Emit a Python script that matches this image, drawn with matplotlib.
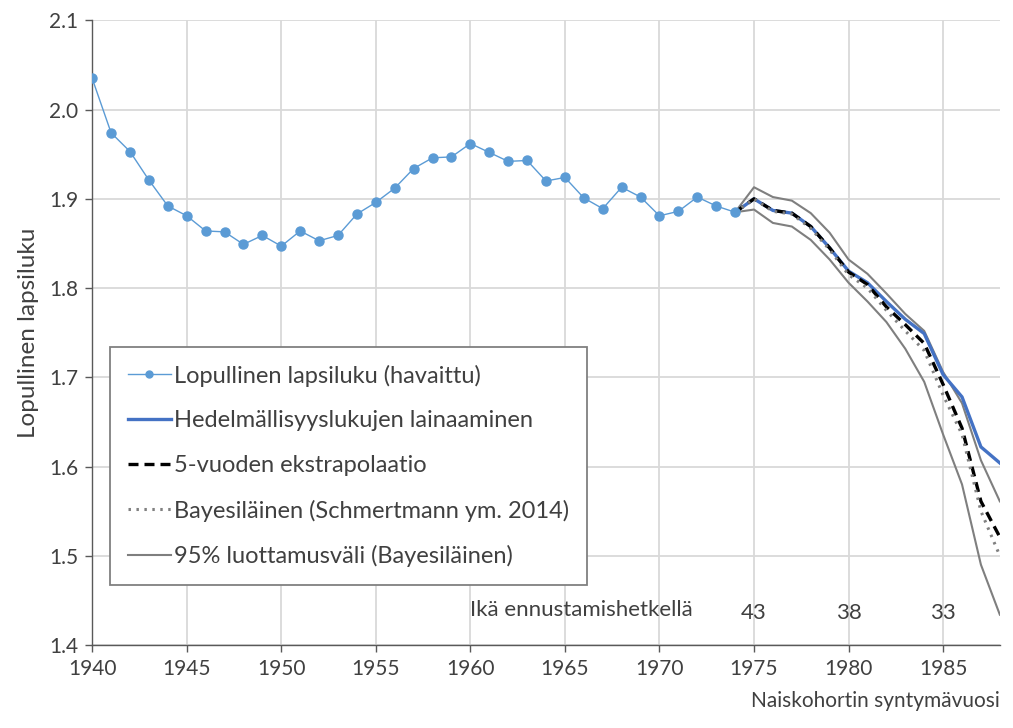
import matplotlib.pyplot as plt

plt.rcParams['font.family'] = ['Lato', 'DejaVu Sans']

# havaitut arvot
obs_years = list(range(1940, 1975))
obs_values = [2.035, 1.974, 1.953, 1.921, 1.892, 1.881, 1.864, 1.863, 1.849, 1.859,
              1.847, 1.864, 1.853, 1.859, 1.883, 1.896, 1.912, 1.934, 1.946, 1.947,
              1.962, 1.952, 1.942, 1.943, 1.920, 1.924, 1.901, 1.889, 1.913, 1.902,
              1.881, 1.886, 1.902, 1.892, 1.885]

# ennusteet
fc_years = list(range(1974, 1989))
borrowing = [1.885, 1.900, 1.887, 1.884, 1.869, 1.845, 1.819, 1.806, 1.785, 1.765,
             1.749, 1.703, 1.678, 1.622, 1.604]
extrap = [1.885, 1.900, 1.887, 1.884, 1.869, 1.845, 1.818, 1.804, 1.779, 1.759,
          1.738, 1.692, 1.643, 1.561, 1.521]
bayes = [1.885, 1.900, 1.886, 1.883, 1.867, 1.843, 1.815, 1.800, 1.775, 1.752,
         1.730, 1.680, 1.636, 1.550, 1.500]
ci_upper = [1.885, 1.913, 1.902, 1.898, 1.884, 1.862, 1.832, 1.816, 1.794, 1.771,
            1.752, 1.706, 1.671, 1.607, 1.561]
ci_lower = [1.885, 1.888, 1.873, 1.869, 1.854, 1.832, 1.806, 1.785, 1.762, 1.732,
            1.695, 1.636, 1.580, 1.490, 1.434]

age_years = [1975, 1980, 1985]
age_labels = ['43', '38', '33']

txt = '#404040'

fig = plt.figure(figsize=(10.13, 7.28), dpi=100)
ax = fig.add_axes([0.091, 0.114, 0.896, 0.858])

ax.plot(obs_years, obs_values, color='#5B9BD5', lw=1, marker='o', ms=6.5,
        label='Lopullinen lapsiluku (havaittu)', zorder=5)
ax.plot(fc_years, borrowing, color='#4472C4', lw=2.4,
        label='Hedelmällisyyslukujen lainaaminen', zorder=3)
ax.plot(fc_years, extrap, color='black', lw=2.4, ls=(0, (3, 1.8)),
        label='5-vuoden ekstrapolaatio', zorder=4)
ax.plot(fc_years, bayes, color='#808080', lw=2.2, ls=(0, (0.8, 1.8)),
        label='Bayesiläinen (Schmertmann ym. 2014)', zorder=4)
ax.plot(fc_years, ci_upper, color='#7F7F7F', lw=1.5,
        label='95% luottamusväli (Bayesiläinen)', zorder=2)
ax.plot(fc_years, ci_lower, color='#7F7F7F', lw=1.5, zorder=2)

ax.set_xlim(1940, 1988)
ax.set_ylim(1.4, 2.1)
ax.set_xticks(range(1940, 1990, 5))
ax.set_yticks([1.4, 1.5, 1.6, 1.7, 1.8, 1.9, 2.0, 2.1])
ax.set_yticklabels([f'{v:.1f}' for v in ax.get_yticks()])
ax.grid(True, color='#D9D9D9', lw=1.3)
ax.set_axisbelow(True)
for s in ['top', 'right']:
    ax.spines[s].set_visible(False)
for s in ['left', 'bottom']:
    ax.spines[s].set_color('#595959')
    ax.spines[s].set_linewidth(1)
ax.tick_params(colors='#595959', labelcolor=txt, labelsize=15, length=5, width=1, pad=5)

ax.set_ylabel('Lopullinen lapsiluku', fontsize=17.5, color=txt, labelpad=7)
ax.set_xlabel('Naiskohortin syntymävuosi', fontsize=15, color=txt, loc='right', labelpad=9)

# ikä ennustamishetkellä
ax.text(1960, 1.439, 'Ikä ennustamishetkellä', fontsize=16, color=txt, va='center')
for yr, lab in zip(age_years, age_labels):
    ax.text(yr, 1.436, lab, fontsize=16, color=txt, ha='center', va='center')

leg = ax.legend(loc='lower left', bbox_to_anchor=(0.02, 0.096), fontsize=17,
                frameon=True, fancybox=False, edgecolor='#808080', framealpha=1,
                handlelength=1.8, handletextpad=0.15, labelspacing=1.0,
                borderpad=0.75, borderaxespad=0, labelcolor=txt)
leg.get_frame().set_linewidth(1.3)
for h in leg.get_lines()[:1]:
    h.set_markersize(5)

fig.savefig('out.png', dpi=100)
